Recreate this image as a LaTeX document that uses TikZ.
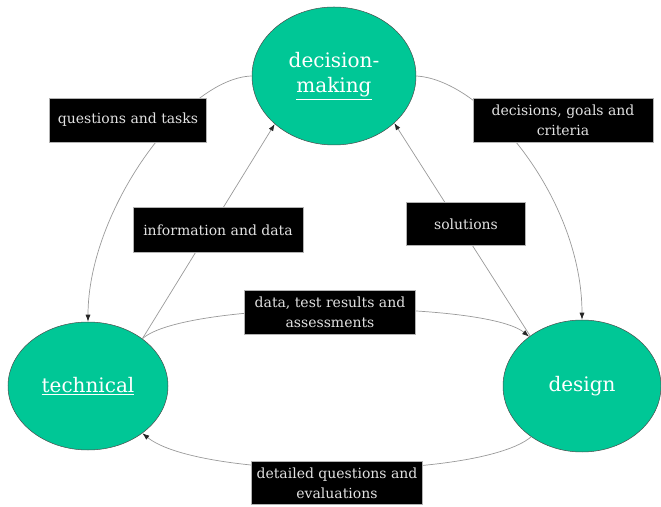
\documentclass[tikz,border=0pt]{standalone}
\usepackage{fontspec}
\setmainfont{DejaVu Serif}
\usetikzlibrary{shapes.geometric,arrows.meta}
\definecolor{phasefill}{RGB}{0,199,150}
\definecolor{lbltext}{RGB}{225,225,225}
\begin{document}
\begin{tikzpicture}[x=1pt,y=1pt,
  phase/.style={ellipse, draw=black!70, line width=0.5pt, fill=phasefill, inner sep=0pt,
    text=white, font=\fontsize{20}{25}\selectfont, align=center},
  lbl/.style={rectangle, fill=black, draw=gray!60, line width=0.6pt, text=lbltext,
    font=\fontsize{14}{20}\selectfont, align=center, inner sep=0pt},
  flow/.style={draw=gray!80, line width=0.7pt, -{Latex[length=7pt,width=5pt,color=black!85]}},
]
\useasboundingbox (0,0) rectangle (661,506);
\node[phase, minimum width=164pt, minimum height=138pt] (dm) at (334,430) {decision-\\\underline{making}};
\node[phase, minimum width=160pt, minimum height=128pt] (tech) at (88,120) {\underline{technical}};
\node[phase, minimum width=158pt, minimum height=132pt] (des) at (582,120) {design};

\draw[flow] (dm.west) .. controls (185,428) and (88,296) .. (tech.north);
\draw[flow] (dm.east) .. controls (485,426) and (582,306) .. (des.north);
\draw[flow] (tech.41) -- (dm.219);
\draw[flow] (des.136) -- (dm.322);
\draw[flow] (tech.41) .. controls (185,206) and (485,206) .. (des.137);
\draw[flow] (des.225) .. controls (480,26) and (200,26) .. (tech.319);

\node[lbl, minimum width=157pt, minimum height=44pt] (l1) at (128,386) {questions and tasks};
\node[lbl, minimum width=180pt, minimum height=44pt] (l2) at (563,386) {decisions, goals and\\criteria};
\node[lbl, minimum width=170pt, minimum height=45pt] (l3) at (218,276) {information and data};
\node[lbl, minimum width=119pt, minimum height=43pt] (l4) at (466,282) {solutions};
\node[lbl, minimum width=171pt, minimum height=44pt] (l5) at (330,194) {data, test results and\\assessments};
\node[lbl, minimum width=171pt, minimum height=43pt] (l6) at (337,23) {detailed questions and\\evaluations};
\end{tikzpicture}
\end{document}
